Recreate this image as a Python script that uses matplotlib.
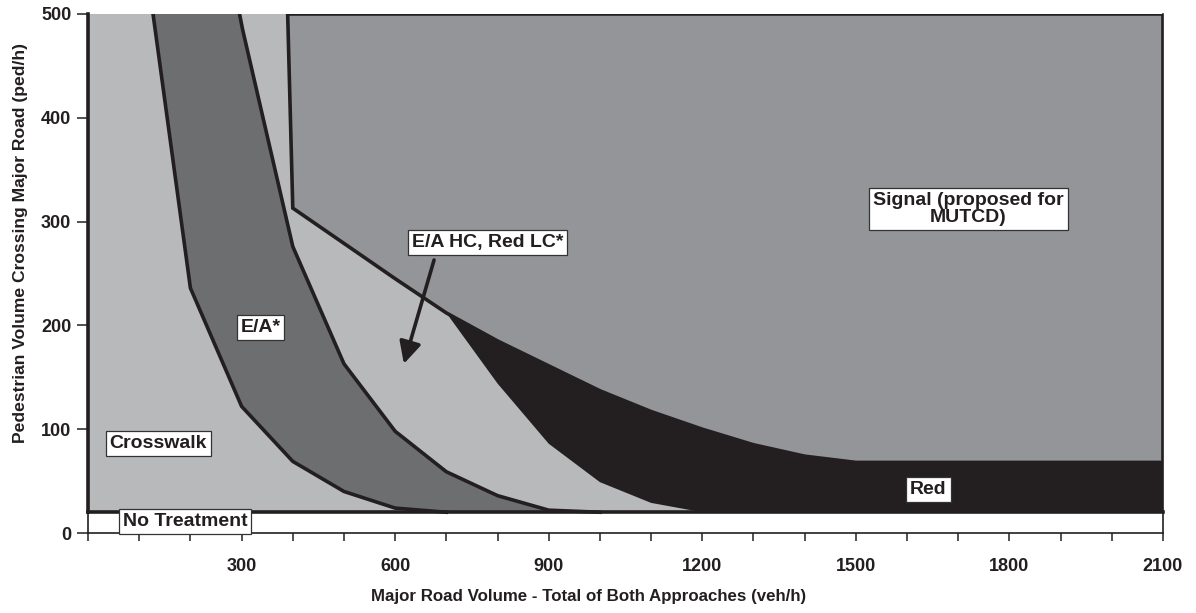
import matplotlib
matplotlib.use("Agg")
import matplotlib.pyplot as plt

plt.rcParams["font.family"] = ["Liberation Sans", "DejaVu Sans"]
plt.rcParams["font.weight"] = "bold"

# boundary between Crosswalk and E/A*
ea_low_x = [127, 200, 300, 400, 500, 600, 700]
ea_low_y = [500, 236, 122, 69, 40, 24, 20]

# boundary between E/A* and E/A HC, Red LC*
ea_high_x = [296, 302, 400, 500, 600, 700, 800, 900, 1000]
ea_high_y = [500, 485, 276, 163, 98, 59, 36, 22, 20]

# signal boundary
signal_x = [390, 400, 500, 600, 700, 800, 900, 1000, 1100, 1200, 1300, 1400, 1500, 2100]
signal_y = [500, 313, 279, 245, 212, 185, 161, 137, 117, 100, 85, 74, 68, 68]

# lower edge of the Red zone
red_low_x = [700, 800, 900, 1000, 1100, 1200]
red_low_y = [212, 144, 86, 49, 29, 20]

no_treatment_y = 20
x_max = 2100
y_max = 500

x_major = [300, 600, 900, 1200, 1500, 1800, 2100]
x_minor = [0, 100, 200, 400, 500, 700, 800, 1000, 1100, 1300, 1400, 1600, 1700, 1900, 2000]
y_ticks = [0, 100, 200, 300, 400, 500]

LIGHT = "#b8b9bb"
DARK = "#6d6e70"
SIGNAL = "#939598"
BLACK = "#231f20"


def main():
    fig = plt.figure(figsize=(11.96, 6.13), dpi=100)
    ax = fig.add_axes([0.0736, 0.1305, 0.8988, 0.8467])
    ax.set_xlim(0, x_max)
    ax.set_ylim(0, y_max)

    # light grey background zones (crosswalk and E/A HC)
    ax.fill_between([0, x_max], no_treatment_y, y_max, color=LIGHT, lw=0, zorder=1)

    # E/A* zone
    px = ea_low_x + ea_high_x[::-1]
    py = ea_low_y + ea_high_y[::-1]
    ax.fill(px, py, color=DARK, lw=0, zorder=2)

    # Red zone
    i0 = signal_x.index(red_low_x[0])
    px = signal_x[i0:] + [x_max] + red_low_x[::-1]
    py = signal_y[i0:] + [no_treatment_y] + red_low_y[::-1]
    ax.fill(px, py, color=BLACK, lw=0, zorder=2)

    # Signal zone
    ax.fill(signal_x + [x_max], signal_y + [y_max], facecolor=SIGNAL,
            edgecolor=BLACK, lw=2.6, zorder=3, joinstyle="miter")

    ax.plot(ea_low_x, ea_low_y, color=BLACK, lw=2.6, zorder=4)
    ax.plot(ea_high_x, ea_high_y, color=BLACK, lw=2.6, zorder=4)
    ax.plot([0, x_max], [no_treatment_y, no_treatment_y], color=BLACK, lw=2.6, zorder=4, clip_on=False)
    ax.plot([0, 0], [no_treatment_y, y_max], color=BLACK, lw=2.6, zorder=4, clip_on=False)

    # labels
    box = dict(boxstyle="square,pad=0.2", facecolor="white", edgecolor="#333333", lw=0.9)
    kw = dict(fontsize=14, fontweight="bold", ha="center", va="center", color=BLACK,
              bbox=box, zorder=6, clip_on=False)
    ax.text(137, 86, "Crosswalk", **kw)
    ax.text(190, 11, "No Treatment", **kw)
    ax.text(337, 198, "E/A*", **kw)
    ax.text(781, 280, "E/A HC, Red LC*", **kw)
    ax.text(1720, 312, "Signal (proposed for\nMUTCD)", linespacing=1.0, **kw)
    ax.text(1642, 42, "Red", **kw)

    ax.annotate("", xy=(617, 163), xytext=(676, 263),
                arrowprops=dict(arrowstyle="-|>,head_length=0.6,head_width=0.3", color=BLACK,
                                lw=2.6, mutation_scale=22, shrinkA=0, shrinkB=0), zorder=5)

    # axes cosmetics
    ax.spines["top"].set_visible(False)
    for s in ["left", "bottom", "right"]:
        ax.spines[s].set_color(BLACK)
        ax.spines[s].set_linewidth(1.2)

    ax.set_xticks(x_major)
    ax.set_xticks(x_minor, minor=True)
    ax.set_xticklabels([str(v) for v in x_major])
    ax.set_yticks(y_ticks)
    ax.set_yticklabels([str(v) for v in y_ticks])
    ax.tick_params(axis="x", which="both", length=6, width=1.1, color=BLACK, pad=12,
                   labelsize=13)
    ax.tick_params(axis="y", length=8, width=1.1, color=BLACK, pad=4, labelsize=13)
    for lab in ax.get_xticklabels() + ax.get_yticklabels():
        lab.set_fontweight("bold")
        lab.set_color(BLACK)

    xl = ax.set_xlabel("Major Road Volume - Total of Both Approaches (veh/h)", fontsize=12.2,
                       fontweight="bold", color=BLACK)
    yl = ax.set_ylabel("Pedestrian Volume Crossing Major Road (ped/h)", fontsize=12.6,
                       fontweight="bold", color=BLACK)
    xl.set_va("center")
    yl.set_va("center")
    ax.xaxis.set_label_coords(0.466, -0.123)
    ax.yaxis.set_label_coords(-0.063, 0.559)

    fig.savefig("out.png", dpi=100)


if __name__ == "__main__":
    main()
